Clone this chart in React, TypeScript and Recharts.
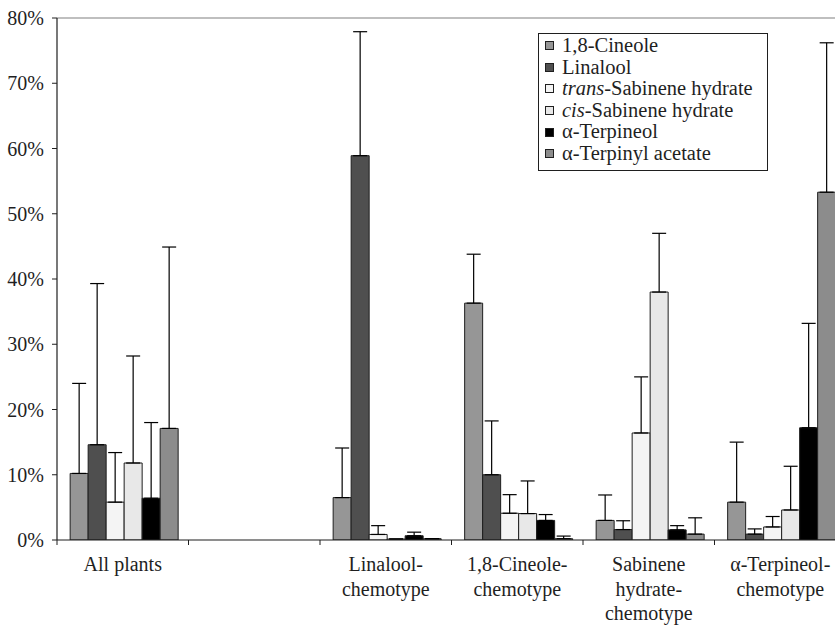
import React from "react";
import { Bar, BarChart, ErrorBar, Legend, ReferenceLine, XAxis, YAxis } from "recharts";

const FONT = "Liberation Serif, DejaVu Serif, serif";
const INK = "#1f1f1f";

// groups along the x axis (the second group is intentionally blank)
const categories = [
  "All plants",
  "",
  "Linalool-chemotype",
  "1,8-Cineole-chemotype",
  "Sabinene hydrate-chemotype",
  "α-Terpineol-chemotype",
];
const categoryLines = [
  ["All plants"],
  [],
  ["Linalool-", "chemotype"],
  ["1,8-Cineole-", "chemotype"],
  ["Sabinene", "hydrate-", "chemotype"],
  ["α-Terpineol-", "chemotype"],
];

// mean share (%) and upper standard deviation per compound
const cineole = [10.2, 0, 6.5, 36.3, 3.0, 5.8];
const cineoleSd = [13.8, 0, 7.6, 7.5, 3.9, 9.2];
const linalool = [14.6, 0, 58.9, 10.0, 1.6, 0.9];
const linaloolSd = [24.7, 0, 19.0, 8.25, 1.35, 0.8];
const transSabinene = [5.8, 0, 0.85, 4.1, 16.4, 2.0];
const transSabineneSd = [7.6, 0, 1.35, 2.85, 8.6, 1.6];
const cisSabinene = [11.8, 0, 0.15, 4.05, 38.0, 4.6];
const cisSabineneSd = [16.4, 0, 0, 5.0, 9.0, 6.7];
const terpineol = [6.4, 0, 0.65, 3.0, 1.55, 17.2];
const terpineolSd = [11.6, 0, 0.55, 0.9, 0.65, 16.0];
const terpinylAcetate = [17.1, 0, 0.2, 0.2, 0.9, 53.3];
const terpinylAcetateSd = [27.8, 0, 0, 0.4, 2.5, 22.9];

const yTicks = [0, 10, 20, 30, 40, 50, 60, 70, 80];

const series = [
  { key: "cineole", prefix: "", name: "1,8-Cineole", fill: "#969696", values: cineole, sd: cineoleSd },
  { key: "linalool", prefix: "", name: "Linalool", fill: "#4f4f4f", values: linalool, sd: linaloolSd },
  { key: "trans", prefix: "trans", name: "-Sabinene hydrate", fill: "#f4f4f4", values: transSabinene, sd: transSabineneSd },
  { key: "cis", prefix: "cis", name: "-Sabinene hydrate", fill: "#e8e8e8", values: cisSabinene, sd: cisSabineneSd },
  { key: "terpineol", prefix: "", name: "α-Terpineol", fill: "#000000", values: terpineol, sd: terpineolSd },
  { key: "acetate", prefix: "", name: "α-Terpinyl acetate", fill: "#8c8c8c", values: terpinylAcetate, sd: terpinylAcetateSd },
];

const rows = categories.map((category, i) => {
  const row: Record<string, unknown> = { category };
  series.forEach((s) => {
    row[s.key] = s.values[i];
    // error bars only go upward
    row[s.key + "Err"] = [0, s.sd[i]];
  });
  return row;
});

function CategoryTick(props: any) {
  const { x, y, payload, index } = props;
  const half = payload?.offset ?? 0;
  const lines = categoryLines[index] ?? [];
  return (
    <g>
      <line x1={x - half} x2={x - half} y1={y - 5} y2={y} stroke={INK} strokeWidth={1} />
      <text x={x} y={y + 26} textAnchor="middle" fill={INK} fontSize={20} style={{ fontFamily: FONT }}>
        {lines.map((line, i) => (
          <tspan key={i} x={x} dy={i === 0 ? 0 : 24.5}>
            {line}
          </tspan>
        ))}
      </text>
    </g>
  );
}

function LegendBox() {
  return (
    <div
      style={{
        width: 230,
        boxSizing: "border-box",
        border: `1.3px solid ${INK}`,
        background: "#fff",
        padding: "1px 4px 5px 6px",
        fontFamily: FONT,
        fontSize: 20.5,
        lineHeight: "21.6px",
        color: INK,
      }}
    >
      {series.map((s) => (
        <div key={s.key} style={{ display: "flex", alignItems: "center", whiteSpace: "nowrap" }}>
          <span
            style={{
              display: "inline-block",
              width: 7,
              height: 7,
              border: `1px solid ${INK}`,
              background: s.fill,
              marginRight: 8,
              flex: "none",
            }}
          />
          <span>
            {s.prefix && <i>{s.prefix}</i>}
            {s.name}
          </span>
        </div>
      ))}
    </div>
  );
}

export default function App() {
  return (
    <div
      style={{
        position: "fixed",
        left: 0,
        top: 0,
        width: 835,
        height: 626,
        overflow: "hidden",
        background: "#fff",
        fontFamily: FONT,
      }}
    >
      <BarChart
        width={860}
        height={626}
        data={rows}
        margin={{ top: 18, right: 14, bottom: 0, left: 0 }}
        barCategoryGap="10%"
        barGap={0}
        style={{ fontFamily: FONT }}
      >
        <ReferenceLine y={80} stroke="#808080" strokeWidth={1.2} />
        <XAxis
          dataKey="category"
          height={86}
          axisLine={{ stroke: INK, strokeWidth: 1.2 }}
          tickLine={false}
          tickSize={5}
          tickMargin={0}
          interval={0}
          tick={<CategoryTick />}
        />
        <YAxis
          width={57}
          domain={[0, 80]}
          ticks={yTicks}
          allowDataOverflow
          axisLine={{ stroke: INK, strokeWidth: 1.2 }}
          tickLine={{ stroke: INK }}
          tickSize={5}
          tickMargin={8}
          tickFormatter={(v: number) => `${v}%`}
          tick={{ fill: INK, fontSize: 20, style: { fontFamily: FONT } }}
        />
        <Legend
          layout="vertical"
          align="center"
          verticalAlign="middle"
          wrapperStyle={{ left: 538, top: 33, width: 230 }}
          content={<LegendBox />}
        />
        {series.map((s) => (
          <Bar
            key={s.key}
            dataKey={s.key}
            name={s.name}
            fill={s.fill}
            stroke={INK}
            strokeWidth={1}
            isAnimationActive={false}
          >
            <ErrorBar
              dataKey={s.key + "Err"}
              direction="y"
              width={7}
              stroke="#000"
              strokeWidth={1.2}
              isAnimationActive={false}
            />
          </Bar>
        ))}
      </BarChart>
    </div>
  );
}
